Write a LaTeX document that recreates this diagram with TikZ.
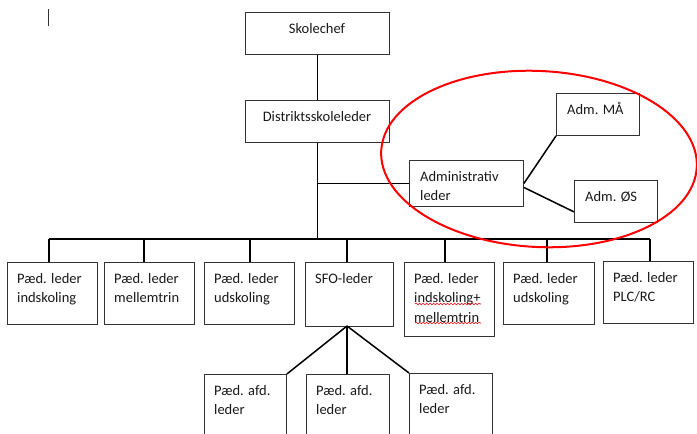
\documentclass[tikz,border=0pt]{standalone}
\usepackage{fontspec}
\setmainfont{Carlito}
\usetikzlibrary{calc,decorations.pathmorphing}
\begin{document}
\begin{tikzpicture}[x=1pt,y=-1pt,
  box/.style={draw=black!80, line width=0.9pt, inner sep=0pt, anchor=north west},
  txt/.style={inner sep=0pt, anchor=north west, align=left, text=black!90,
              font=\fontsize{14.5}{19.5}\selectfont},
  ctxt/.style={txt, anchor=north, align=center},
  conn/.style={line width=1.5pt, black},
  squig/.style={red, line width=0.6pt, decorate,
                decoration={snake, amplitude=0.8pt, segment length=3.5pt}}]
\path[use as bounding box] (0,0) rectangle (697,434);
\clip (0,0) rectangle (697,434);

% text cursor
\draw[line width=0.8pt, black!80] (48.5,9) -- (48.5,26);

% boxes
\node[box, minimum width=144pt, minimum height=42pt] (sk)   at (245,12) {};
\node[box, minimum width=144pt, minimum height=42pt] (dist) at (245,100) {};
\node[box, minimum width=114pt, minimum height=46pt] (adm)  at (409,160) {};
\node[box, minimum width=83pt,  minimum height=42pt] (ma)   at (556,93) {};
\node[box, minimum width=83pt,  minimum height=42pt] (os)   at (574,180) {};
\node[box, minimum width=90pt,  minimum height=62pt] (b1)   at (7,262) {};
\node[box, minimum width=90pt,  minimum height=62pt] (b2)   at (104,262) {};
\node[box, minimum width=90pt,  minimum height=62pt] (b3)   at (204,262) {};
\node[box, minimum width=88pt,  minimum height=64pt] (b4)   at (305,262) {};
\node[box, minimum width=90pt,  minimum height=74pt] (b5)   at (404,262) {};
\node[box, minimum width=91pt,  minimum height=62pt] (b6)   at (503,262) {};
\node[box, minimum width=90pt,  minimum height=62pt] (b7)   at (603,261) {};
\node[box, minimum width=82pt,  minimum height=80pt] (c1)   at (204,374) {};
\node[box, minimum width=83pt,  minimum height=80pt] (c2)   at (306,374) {};
\node[box, minimum width=83pt,  minimum height=80pt] (c3)   at (409,373) {};

% texts
\node[ctxt] (tsk)   at (317,19.35)  {\strut Skolechef};
\node[ctxt] (tdist) at (317,107.35) {\strut Distriktsskoleleder};
\node[txt]  (tadm)  at (420,167.35) {\strut Administrativ\\leder};
\node[txt]  (tma)   at (567,100.35) {\strut Adm. MÅ};
\node[txt]  (tos)   at (585,187.35) {\strut Adm. ØS};
\node[txt]  (tb1)   at (17,269.35)  {\strut Pæd. leder\\indskoling};
\node[txt]  (tb2)   at (114,269.35) {\strut Pæd. leder\\mellemtrin};
\node[txt]  (tb3)   at (214,269.35) {\strut Pæd. leder\\udskoling};
\node[txt]  (tb4)   at (315,269.35) {\strut SFO-leder};
\node[txt]  (tb5)   at (414,269.35) {\strut Pæd. leder\\indskoling+\\mellemtrin};
\node[txt]  (tb6)   at (513,269.35) {\strut Pæd. leder\\udskoling};
\node[txt]  (tb7)   at (613,268.35) {\strut Pæd. leder\\PLC/RC};
\node[txt]  (tc1)   at (214,381.35) {\strut Pæd. afd.\\leder};
\node[txt]  (tc2)   at (316,381.35) {\strut Pæd. afd.\\leder};
\node[txt]  (tc3)   at (419,380.35) {\strut Pæd. afd.\\leder};

% spell-check underlines
\draw[squig] (415,304) -- (481,304);
\draw[squig] (415,323) -- (481,323);

% connectors
\coordinate (busL) at (49,239);
\coordinate (busR) at (650,239);
\draw[conn] (sk.south) -- (dist.north);
\draw[conn] (dist.south) -- (dist.south |- busL);
\draw[conn] (dist.south |- adm.west) -- (adm.west);
\draw[conn] (busL) -- (busR);
\foreach \n/\x in {b1/49,b2/144,b3/250,b4/347,b5/445,b6/547,b7/650}
  \draw[conn] (\x,239) -- (\n.north -| \x,0);
\draw[conn] (adm.east) -- (ma.south west);
\draw[conn] ($(adm.east)+(0,4)$) -- ($(os.south west)+(0,-11)$);
\coordinate (sfo) at (347,326);
\draw[conn] (sfo) -- (c1.north east);
\draw[conn] (sfo) -- (c2.north -| sfo);
\draw[conn] (sfo) -- (c3.north west);

% red ellipse
\draw[red, line width=2pt, rotate around={-3:(539,159)}]
  (539,159) ellipse [x radius=158, y radius=88];
\end{tikzpicture}
\end{document}
